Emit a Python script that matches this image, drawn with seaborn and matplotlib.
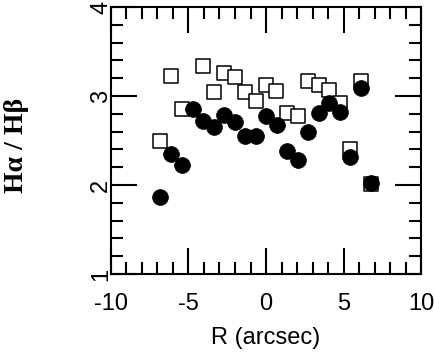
import matplotlib
matplotlib.use("Agg")
import matplotlib.pyplot as plt
from matplotlib.ticker import MultipleLocator
import seaborn as sns
import pandas as pd

# radius along the slit (arcsec)
r_filled = [-6.80, -6.12, -5.44, -4.72, -4.08, -3.38, -2.69, -2.02, -1.37, -0.67,
            0.00, 0.70, 1.35, 2.04, 2.71, 3.40, 4.06, 4.77, 5.44, 6.10, 6.79]
ratio_filled = [1.87, 2.35, 2.22, 2.86, 2.72, 2.65, 2.79, 2.71, 2.55, 2.55,
                2.78, 2.67, 2.38, 2.28, 2.60, 2.81, 2.92, 2.82, 2.32, 3.09, 2.02]

r_open = [-6.80, -6.12, -5.44, -4.07, -3.38, -2.69, -2.02, -1.35, -0.67, 0.00,
          0.66, 1.35, 2.04, 2.71, 3.40, 4.06, 4.77, 5.44, 6.10, 6.79]
ratio_open = [2.49, 3.22, 2.86, 3.34, 3.04, 3.26, 3.21, 3.04, 2.95, 3.12,
              3.06, 2.81, 2.78, 3.17, 3.12, 3.07, 2.92, 2.41, 3.17, 2.01]

x_ticks = [-10, -5, 0, 5, 10]
y_ticks = [1, 2, 3, 4]

df_open = pd.DataFrame({"R": r_open, "ratio": ratio_open})
df_filled = pd.DataFrame({"R": r_filled, "ratio": ratio_filled})

sns.set_style("ticks")
plt.rcParams["font.family"] = ["Liberation Sans", "DejaVu Sans"]
for key in ["text.color", "axes.labelcolor", "xtick.color", "ytick.color", "axes.edgecolor"]:
    plt.rcParams[key] = "black"

fig = plt.figure(figsize=(4.35, 3.54), dpi=100)
ax = fig.add_axes([0.2547, 0.226, 0.7137, 0.754])

# open squares first so the filled circles sit on top
sns.scatterplot(data=df_open, x="R", y="ratio", marker="s", s=90,
                facecolor="white", edgecolor="black", linewidth=1.1, ax=ax, zorder=3)
sns.scatterplot(data=df_filled, x="R", y="ratio", marker="o", s=130,
                color="black", edgecolor="black", linewidth=0.5, ax=ax, zorder=4)

ax.set_xlim(-10, 10)
ax.set_ylim(1, 4)
ax.set_xticks(x_ticks)
ax.set_yticks(y_ticks)
ax.set_xticklabels([str(t) for t in x_ticks], fontsize=17)
ax.set_yticklabels([str(t) for t in y_ticks], fontsize=17, rotation=90, va="center")
ax.xaxis.set_minor_locator(MultipleLocator(1))
ax.yaxis.set_minor_locator(MultipleLocator(0.2))
ax.tick_params(which="both", direction="in", top=True, right=True, width=1.5,
               color="black", labelcolor="black")
ax.tick_params(which="major", length=19)
ax.tick_params(which="minor", length=8.5)
ax.tick_params(axis="x", which="major", pad=14)
ax.tick_params(axis="y", which="major", pad=-1)
for sp in ax.spines.values():
    sp.set_linewidth(1.5)
    sp.set_color("black")

ax.set_xlabel("R (arcsec)", fontsize=17, color="black")
ax.set_ylabel("Hα / Hβ", fontsize=20, fontweight="bold", color="black",
              family=["Liberation Serif", "DejaVu Serif"])
ax.xaxis.set_label_coords(0.5, -0.2)
ax.yaxis.set_label_coords(-0.265, 0.48)

fig.savefig("out.png", dpi=100)
